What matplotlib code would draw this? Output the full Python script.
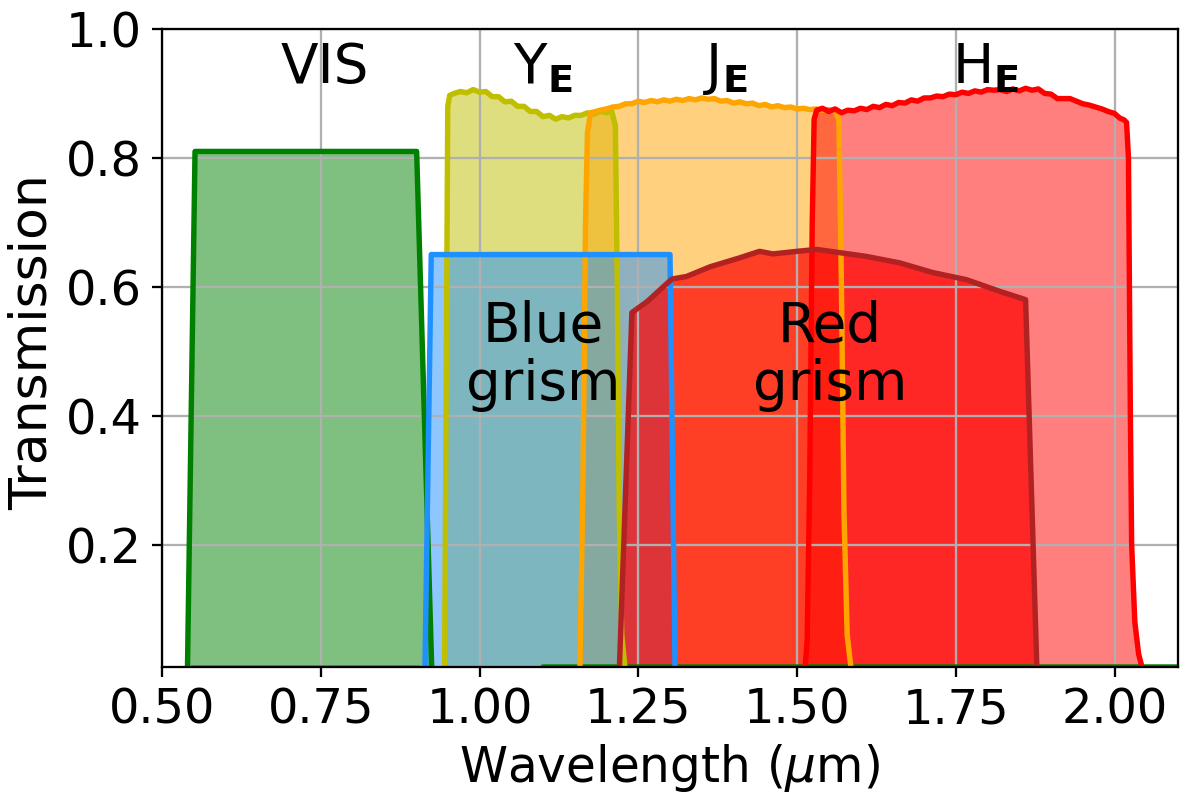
import matplotlib
matplotlib.use("Agg")
import matplotlib.pyplot as plt

# ---------------- filter curves (wavelength in micron, transmission) ----------------
vis_wl = [0.540, 0.552, 0.600, 0.700, 0.800, 0.901, 0.925, 1.095, 1.100, 2.100]
vis_tr = [0.000, 0.810, 0.810, 0.810, 0.810, 0.810, 0.000, 0.000, 0.010, 0.010]

ye_wl = [0.945, 0.950, 0.953, 0.960, 0.970, 0.980, 0.990, 1.000, 1.010, 1.020,
         1.030, 1.040, 1.050, 1.060, 1.070, 1.080, 1.090, 1.100, 1.110, 1.120,
         1.130, 1.140, 1.150, 1.160, 1.170, 1.180, 1.190, 1.200, 1.208, 1.214,
         1.217, 1.220, 1.224, 1.230]
ye_tr = [0.000, 0.880, 0.897, 0.900, 0.903, 0.901, 0.906, 0.902, 0.903, 0.895,
         0.895, 0.887, 0.888, 0.880, 0.880, 0.872, 0.872, 0.864, 0.866, 0.860,
         0.864, 0.862, 0.866, 0.866, 0.870, 0.868, 0.872, 0.870, 0.873, 0.850,
         0.600, 0.250, 0.060, 0.000]

je_wl = [1.158, 1.163, 1.167, 1.170, 1.175, 1.190, 1.200, 1.210, 1.220, 1.230,
         1.240, 1.250, 1.260, 1.270, 1.280, 1.290, 1.300, 1.310, 1.320, 1.330,
         1.340, 1.350, 1.360, 1.370, 1.380, 1.390, 1.400, 1.410, 1.420, 1.430,
         1.440, 1.450, 1.460, 1.470, 1.480, 1.490, 1.500, 1.510, 1.520, 1.530,
         1.540, 1.550, 1.560, 1.566, 1.570, 1.574, 1.579, 1.586]
je_tr = [0.000, 0.300, 0.700, 0.840, 0.870, 0.874, 0.876, 0.879, 0.880, 0.884,
         0.884, 0.888, 0.886, 0.889, 0.887, 0.890, 0.888, 0.891, 0.889, 0.892,
         0.890, 0.893, 0.891, 0.892, 0.888, 0.889, 0.885, 0.887, 0.884, 0.885,
         0.881, 0.883, 0.879, 0.881, 0.878, 0.879, 0.876, 0.877, 0.875, 0.876,
         0.874, 0.875, 0.872, 0.860, 0.600, 0.250, 0.060, 0.000]

he_wl = [1.512, 1.516, 1.520, 1.524, 1.527, 1.531, 1.540, 1.550, 1.560, 1.570,
         1.580, 1.590, 1.600, 1.610, 1.620, 1.630, 1.640, 1.650, 1.660, 1.670,
         1.680, 1.690, 1.700, 1.710, 1.720, 1.730, 1.740, 1.750, 1.760, 1.770,
         1.780, 1.790, 1.800, 1.810, 1.820, 1.830, 1.840, 1.850, 1.860, 1.870,
         1.880, 1.890, 1.900, 1.910, 1.920, 1.930, 1.940, 1.950, 1.960, 1.970,
         1.980, 1.990, 2.000, 2.008, 2.015, 2.019, 2.022, 2.025, 2.027, 2.032,
         2.038, 2.046]
he_tr = [0.000, 0.050, 0.300, 0.700, 0.860, 0.874, 0.877, 0.872, 0.876, 0.870,
         0.874, 0.873, 0.877, 0.875, 0.880, 0.878, 0.883, 0.881, 0.886, 0.885,
         0.890, 0.888, 0.893, 0.893, 0.896, 0.895, 0.899, 0.898, 0.902, 0.900,
         0.904, 0.902, 0.906, 0.905, 0.906, 0.903, 0.907, 0.904, 0.908, 0.905,
         0.907, 0.900, 0.899, 0.892, 0.892, 0.892, 0.888, 0.884, 0.882, 0.879,
         0.876, 0.872, 0.869, 0.862, 0.859, 0.855, 0.800, 0.400, 0.200, 0.080,
         0.030, 0.000]

blue_wl = [0.914, 0.924, 1.300, 1.308]
blue_tr = [0.000, 0.650, 0.650, 0.000]

red_wl = [0.550, 0.905, 0.910, 1.215, 1.220, 1.240, 1.264, 1.284, 1.303, 1.326,
          1.363, 1.410, 1.441, 1.462, 1.500, 1.531, 1.567, 1.610, 1.662, 1.714,
          1.767, 1.819, 1.860, 1.878]
red_tr = [0.008, 0.008, 0.000, 0.000, 0.000, 0.560, 0.577, 0.595, 0.612, 0.616,
          0.631, 0.645, 0.655, 0.651, 0.655, 0.658, 0.653, 0.647, 0.637, 0.622,
          0.611, 0.593, 0.580, 0.000]

# (data, line colour, fill colour, fill alpha) in drawing order
curves = [
    (vis_wl, vis_tr, 'green', 'green', 0.5),
    (ye_wl, ye_tr, 'y', 'y', 0.5),
    (je_wl, je_tr, 'orange', 'orange', 0.5),
    (he_wl, he_tr, 'red', 'red', 0.5),
    (blue_wl, blue_tr, 'dodgerblue', 'dodgerblue', 0.5),
    (red_wl, red_tr, 'firebrick', 'red', 0.7),
]

labels = [
    (0.757, 0.916, 'VIS'),
    (1.099, 0.916, r'Y$_\mathbf{E}$'),
    (1.388, 0.916, r'J$_\mathbf{E}$'),
    (1.797, 0.916, r'H$_\mathbf{E}$'),
    (1.100, 0.492, 'Blue\ngrism'),
    (1.552, 0.492, 'Red\ngrism'),
]

# ---------------- plot ----------------
fig = plt.figure(figsize=(11.8, 7.96), dpi=100)
ax = fig.add_axes([162/1180, 1 - 667/796, (1178 - 162)/1180, (667 - 29)/796])

for wl, tr, lc, fc, a in curves:
    ax.fill_between(wl, 0, tr, color=fc, alpha=a, lw=0)
for wl, tr, lc, fc, a in curves:
    ax.plot(wl, tr, color=lc, lw=3.9, solid_joinstyle='round')

for x, y, s in labels[:4]:
    ax.text(x, y, s, fontsize=39.5, ha='center', va='baseline')
for x, y, s in labels[4:]:
    ax.text(x, y, s, fontsize=39.5, ha='center', va='center', linespacing=1.1)

ax.set_xlim(0.5, 2.1)
ax.set_ylim(0.01, 1.0)
ax.set_xticks([0.5, 0.75, 1.0, 1.25, 1.5, 1.75, 2.0])
ax.set_yticks([0.2, 0.4, 0.6, 0.8, 1.0])
ax.grid(True, color='#b0b0b0', lw=1.64)
for sp in ax.spines.values():
    sp.set_linewidth(1.64)
ax.tick_params(labelsize=34.5, length=7.2, width=1.64, pad=7.2)
ax.set_xlabel(r'Wavelength ($\mu$m)', fontsize=35, labelpad=6)
ax.set_ylabel('Transmission', fontsize=37.5)
ax.yaxis.set_label_coords(-0.103, 0.51)

fig.savefig('out.png', dpi=100)
